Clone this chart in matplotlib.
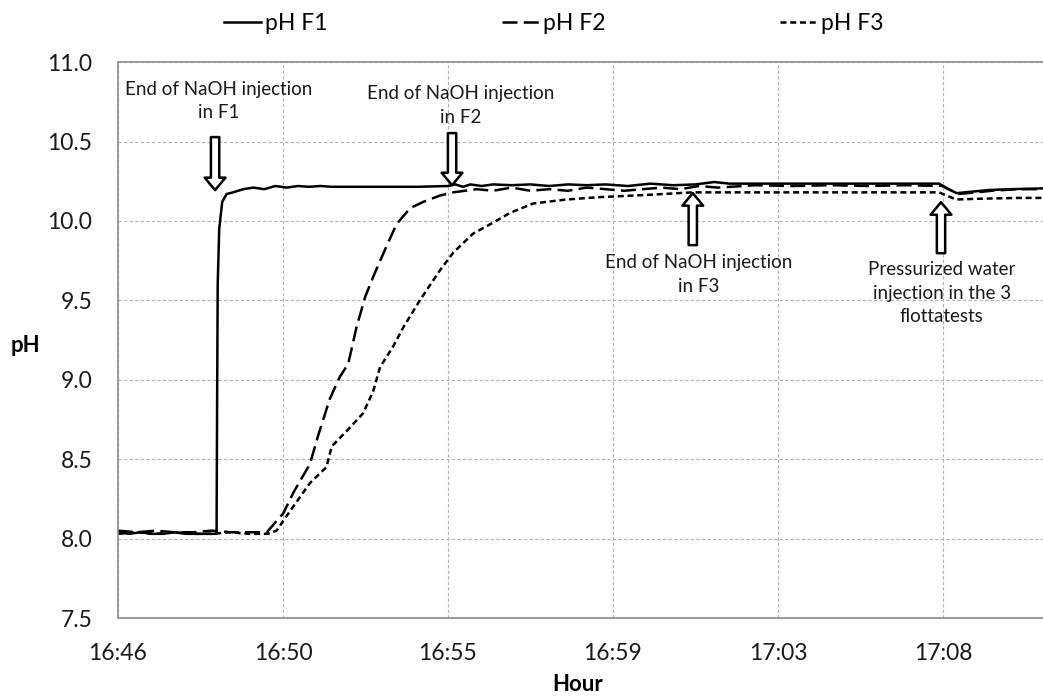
import numpy as np
import matplotlib
matplotlib.use("Agg")
import matplotlib.pyplot as plt
from matplotlib.patches import FancyArrowPatch

plt.rcParams["font.family"] = ["Lato", "DejaVu Sans"]

# time axis: minutes after 16:46:20, one major tick every 4.4 min
TICK_MIN = [0.0, 4.4, 8.8, 13.2, 17.6, 22.0]
TICK_LABELS = ["16:46", "16:50", "16:55", "16:59", "17:03", "17:08"]
X_MAX = 24.67

# pH F1 (solid)
t_f1 = [0.0, 0.3, 0.6, 0.9, 1.2, 1.5, 1.8, 2.1, 2.4, 2.63, 2.645, 2.66, 2.70,
        2.78, 2.90, 3.07, 3.34, 3.61, 3.9, 4.2, 4.5, 4.8, 5.1, 5.4, 5.7,
        6.2, 7.0, 8.0, 8.8, 9.0, 9.2, 9.4, 9.7, 10.0, 10.5, 11.0, 11.5, 12.0,
        12.5, 13.0, 13.6, 14.2, 14.8, 15.4, 15.9, 16.3, 17.0, 18.0, 19.0,
        20.0, 21.0, 21.9, 22.1, 22.37, 22.8, 23.25, 23.8, 24.67]
ph_f1 = [8.04, 8.03, 8.04, 8.03, 8.03, 8.04, 8.03, 8.03, 8.03, 8.03, 8.90,
         9.60, 9.95, 10.12, 10.17, 10.18, 10.20, 10.21, 10.20, 10.22, 10.21,
         10.22, 10.215, 10.22, 10.215, 10.215, 10.215, 10.215, 10.22, 10.23,
         10.215, 10.23, 10.22, 10.23, 10.225, 10.23, 10.22, 10.23, 10.225,
         10.23, 10.22, 10.235, 10.225, 10.23, 10.245, 10.235, 10.235, 10.235,
         10.235, 10.235, 10.235, 10.235, 10.205, 10.175, 10.185, 10.195,
         10.20, 10.205]

# pH F2 (long dash)
t_f2 = [0.0, 0.5, 1.0, 1.5, 2.0, 2.5, 3.0, 3.5, 3.97, 4.41, 4.68, 5.12,
        5.34, 5.65, 5.92, 6.14, 6.36, 6.59, 6.81, 7.16, 7.43, 7.79, 8.14,
        8.59, 8.94, 9.57, 10.0, 10.5, 11.0, 11.5, 12.0, 12.5, 13.0, 13.5,
        14.0, 14.5, 15.0, 15.5, 16.0, 17.0, 18.0, 19.0, 20.0, 21.0, 22.0,
        22.4, 22.9, 23.3, 24.0, 24.67]
ph_f2 = [8.05, 8.04, 8.05, 8.04, 8.04, 8.05, 8.04, 8.04, 8.04, 8.16, 8.29,
         8.47, 8.65, 8.88, 9.02, 9.10, 9.33, 9.52, 9.65, 9.84, 9.98, 10.08,
         10.12, 10.16, 10.18, 10.20, 10.19, 10.21, 10.19, 10.20, 10.19,
         10.21, 10.20, 10.19, 10.20, 10.21, 10.20, 10.22, 10.21, 10.225,
         10.22, 10.225, 10.22, 10.225, 10.22, 10.17, 10.18, 10.19, 10.20,
         10.20]

# pH F3 (short dash)
t_f3 = [0.0, 0.5, 1.0, 1.5, 2.0, 2.5, 3.0, 3.5, 4.0, 4.23, 4.49, 4.85,
        5.12, 5.56, 5.70, 6.19, 6.54, 6.81, 6.99, 7.34, 7.61, 8.05, 8.59,
        8.94, 9.47, 10.01, 10.45, 11.07, 11.96, 12.85, 14.19, 15.33, 16.5,
        18.0, 20.0, 21.9, 22.1, 22.35, 23.0, 24.0, 24.67]
ph_f3 = [8.03, 8.04, 8.03, 8.04, 8.03, 8.03, 8.04, 8.03, 8.03, 8.05, 8.14,
         8.26, 8.35, 8.45, 8.58, 8.70, 8.79, 8.93, 9.08, 9.21, 9.33, 9.50,
         9.69, 9.80, 9.92, 9.99, 10.05, 10.11, 10.135, 10.15, 10.165, 10.18,
         10.18, 10.18, 10.18, 10.18, 10.16, 10.135, 10.14, 10.145, 10.145]

# annotations: (text, text x, text y, arrow x, arrow start y, arrow end y)
notes = [
    ("End of NaOH injection\nin F1", 2.69, 10.754, 2.59, 10.528, 10.194),
    ("End of NaOH injection\nin F2", 9.15, 10.726, 8.91, 10.553, 10.225),
    ("End of NaOH injection\nin F3", 15.49, 9.662, 15.33, 9.848, 10.175),
    ("Pressurized water\ninjection in the 3\nflottatests", 21.97, 9.545,
     21.95, 9.797, 10.118),
]

fig = plt.figure(figsize=(10.43, 6.98), dpi=100)
ax = fig.add_axes([0.1131, 0.1146, 0.8869, 0.7964])

l1, = ax.plot(t_f1, ph_f1, color="black", lw=1.8, solid_joinstyle="round")
l2, = ax.plot(t_f2, ph_f2, color="black", lw=1.8, dashes=(6, 2.5))
l3, = ax.plot(t_f3, ph_f3, color="black", lw=1.8, dashes=(2.4, 1.5))

ax.set_xlim(0, X_MAX)
ax.set_ylim(7.5, 11.0)
ax.set_xticks(TICK_MIN)
ax.set_xticklabels(TICK_LABELS)
ax.set_yticks(np.arange(7.5, 11.01, 0.5))
ax.set_yticklabels([f"{v:.1f}" for v in np.arange(7.5, 11.01, 0.5)])
ax.tick_params(axis="both", length=0, labelsize=16.5, colors="#1a1a1a")
ax.tick_params(axis="y", pad=18.5)
ax.tick_params(axis="x", pad=18)
ax.grid(True, color="#b5b5b5", ls=(0, (3, 2)), lw=0.8)
for s in ax.spines.values():
    s.set_color("#8c8c8c")
    s.set_linewidth(1.2)
ax.spines["right"].set_visible(False)

ax.set_xlabel("Hour", fontsize=16, fontweight="bold", va="center")
ax.xaxis.set_label_coords(0.497, -0.1205)
ax.set_ylabel("pH", fontsize=16, fontweight="bold", rotation=0,
              ha="center", va="center")
ax.yaxis.set_label_coords(-0.1, 0.49)

for txt, tx, ty, ax_x, y0, y1 in notes:
    ax.text(tx, ty, txt, ha="center", va="center", fontsize=13.5,
            linespacing=1.45, color="#1a1a1a")
    ax.add_patch(FancyArrowPatch((ax_x, y0), (ax_x, y1),
                                 arrowstyle="simple,head_length=0.45,head_width=0.75,tail_width=0.3",
                                 mutation_scale=20, fc="white", ec="black",
                                 lw=1.8, shrinkA=0, shrinkB=0, zorder=5))

fig.legend([l1, l2, l3], ["pH F1", "pH F2", "pH F3"], loc="center",
           bbox_to_anchor=(0.531, 0.967), ncol=3, frameon=False, fontsize=16.5,
           handlelength=1.6, handletextpad=0.2, columnspacing=7.6)

fig.savefig("out.png", dpi=100)
